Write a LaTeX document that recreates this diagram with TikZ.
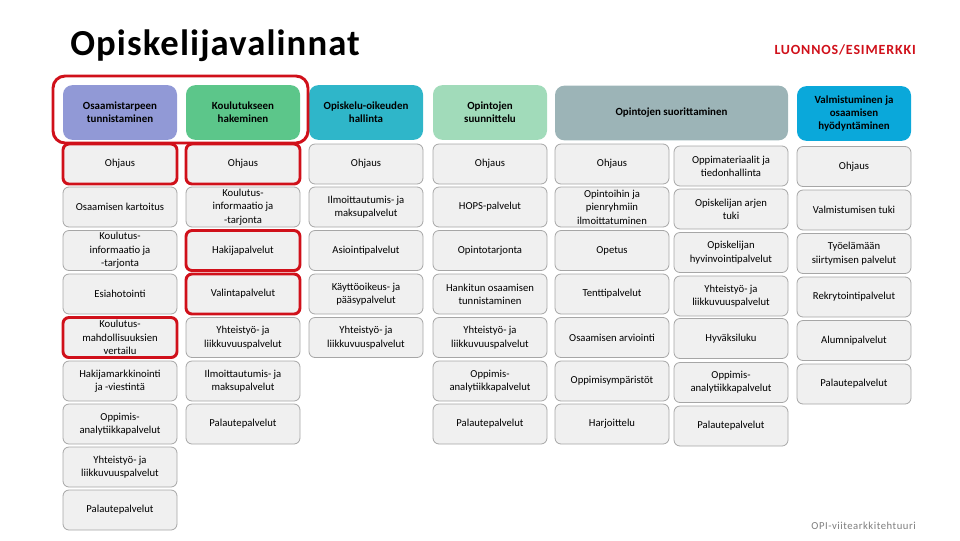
\documentclass[tikz,border=0pt]{standalone}
\usepackage{fontspec}
\setmainfont{Carlito}
\usetikzlibrary{positioning}

\definecolor{hdrpurple}{RGB}{145,153,214}
\definecolor{hdrgreen}{RGB}{92,198,138}
\definecolor{hdrteal}{RGB}{47,182,201}
\definecolor{hdrmint}{RGB}{161,219,186}
\definecolor{hdrgrey}{RGB}{156,180,183}
\definecolor{hdrblue}{RGB}{10,168,218}
\definecolor{svcfill}{RGB}{240,240,240}
\definecolor{svcline}{RGB}{166,166,166}
\definecolor{hlred}{RGB}{208,16,26}
\definecolor{footgrey}{RGB}{125,125,125}

\tikzset{
  svc/.style={draw=svcline, fill=svcfill, rounded corners=4.5pt, line width=0.6pt,
    minimum width=85.5pt, minimum height=30pt, inner sep=1pt, align=center,
    font=\fontsize{8}{10}\selectfont},
  hdr/.style={rounded corners=7pt, minimum width=85.5pt, minimum height=41pt,
    inner sep=1pt, align=center, font=\fontsize{8.2}{9.5}\selectfont\bfseries},
  hl/.style={svc, draw=hlred, line width=2.2pt}
}

\begin{document}
\begin{tikzpicture}[x=0.75pt,y=0.75pt,yscale=-1,xscale=1]
	\useasboundingbox (0,0) rectangle (960,540);
	
	% Title
	\node [anchor=base west, inner sep=0pt, font=\fontsize{27.5}{30}\selectfont\bfseries\addfontfeature{LetterSpace=3}] (title) at (70,55) {Opiskelijavalinnat};
	\node [anchor=base east, inner sep=0pt, text=hlred, font=\fontsize{10.5}{12}\selectfont\bfseries\addfontfeature{LetterSpace=6}] (draft) at (916,54) {LUONNOS/ESIMERKKI};
	
	% Headers
	\node [hdr, fill=hdrpurple] (h1) at (120,112.5) {Osaamistarpeen\\tunnistaminen};
	\node [hdr, fill=hdrgreen] (h2) at (243,112.5) {Koulutukseen\\hakeminen};
	\node [hdr, fill=hdrteal] (h3) at (366,112.5) {Opiskelu-oikeuden\\hallinta};
	\node [hdr, fill=hdrmint] (h4) at (490,112.5) {Opintojen\\suunnittelu};
	\node [hdr, fill=hdrgrey, minimum width=174.75pt] (h5) at (671.5,113) {Opintojen suorittaminen};
	\node [hdr, fill=hdrblue] (h7) at (854,113.5) {Valmistuminen ja\\osaamisen\\hyödyntäminen};
	
	% Column 1
	\node [hl] (a1) at (120,164) {Ohjaus};
	\node [svc] (a2) at (120,207) {Osaamisen kartoitus};
	\node [svc] (a3) at (120,250.5) {Koulutus-\\informaatio ja\\-tarjonta};
	\node [svc] (a4) at (120,294) {Esiahotointi};
	\node [hl] (a5) at (120,337.5) {Koulutus-\\mahdollisuuksien\\vertailu};
	\node [svc] (a6) at (120,381) {Hakijamarkkinointi\\ja -viestintä};
	\node [svc] (a7) at (120,424) {Oppimis-\\analytiikkapalvelut};
	\node [svc] (a8) at (120,467) {Yhteistyö- ja\\liikkuvuuspalvelut};
	\node [svc] (a9) at (120,510) {Palautepalvelut};
	
	% Column 2
	\node [hl] (b1) at (243,164) {Ohjaus};
	\node [svc] (b2) at (243,207) {Koulutus-\\informaatio ja\\-tarjonta};
	\node [hl] (b3) at (243,250.5) {Hakijapalvelut};
	\node [hl] (b4) at (243,294) {Valintapalvelut};
	\node [svc] (b5) at (243,337.5) {Yhteistyö- ja\\liikkuvuuspalvelut};
	\node [svc] (b6) at (243,381) {Ilmoittautumis- ja\\maksupalvelut};
	\node [svc] (b7) at (243,424) {Palautepalvelut};
	
	% Column 3
	\node [svc] (c1) at (366,164) {Ohjaus};
	\node [svc] (c2) at (366,207) {Ilmoittautumis- ja\\maksupalvelut};
	\node [svc] (c3) at (366,250.5) {Asiointipalvelut};
	\node [svc] (c4) at (366,294) {Käyttöoikeus- ja\\pääsypalvelut};
	\node [svc] (c5) at (366,337.5) {Yhteistyö- ja\\liikkuvuuspalvelut};
	
	% Column 4
	\node [svc] (d1) at (490,164) {Ohjaus};
	\node [svc] (d2) at (490,207) {HOPS-palvelut};
	\node [svc] (d3) at (490,250.5) {Opintotarjonta};
	\node [svc] (d4) at (490,294) {Hankitun osaamisen\\tunnistaminen};
	\node [svc] (d5) at (490,337.5) {Yhteistyö- ja\\liikkuvuuspalvelut};
	\node [svc] (d6) at (490,381) {Oppimis-\\analytiikkapalvelut};
	\node [svc] (d7) at (490,424) {Palautepalvelut};
	
	% Column 5
	\node [svc] (e1) at (612,164) {Ohjaus};
	\node [svc] (e2) at (612,207) {Opintoihin ja\\pienryhmiin\\ilmoittatuminen};
	\node [svc] (e3) at (612,250.5) {Opetus};
	\node [svc] (e4) at (612,294) {Tenttipalvelut};
	\node [svc] (e5) at (612,337.5) {Osaamisen arviointi};
	\node [svc] (e6) at (612,381) {Oppimisympäristöt};
	\node [svc] (e7) at (612,424) {Harjoittelu};
	
	% Column 6
	\node [svc] (f1) at (731,166) {Oppimateriaalit ja\\tiedonhallinta};
	\node [svc] (f2) at (731,209) {Opiskelijan arjen\\tuki};
	\node [svc] (f3) at (731,252.5) {Opiskelijan\\hyvinvointipalvelut};
	\node [svc] (f4) at (731,296) {Yhteistyö- ja\\liikkuvuuspalvelut};
	\node [svc] (f5) at (731,338.5) {Hyväksiluku};
	\node [svc] (f6) at (731,382.5) {Oppimis-\\analytiikkapalvelut};
	\node [svc] (f7) at (731,426) {Palautepalvelut};
	
	% Column 7
	\node [svc] (g1) at (854,166.5) {Ohjaus};
	\node [svc] (g2) at (854,210) {Valmistumisen tuki};
	\node [svc] (g3) at (854,253.5) {Työelämään\\siirtymisen palvelut};
	\node [svc] (g4) at (854,297) {Rekrytointipalvelut};
	\node [svc] (g5) at (854,340.5) {Alumnipalvelut};
	\node [svc] (g6) at (854,384) {Palautepalvelut};
	
	% Highlight round the first two headers
	\draw [hlred, line width=2.2pt, rounded corners=9pt] (53,76) rectangle (308,143);
	
	% Footer
	\node [anchor=base east, inner sep=0pt, text=footgrey, font=\fontsize{8}{10}\selectfont\addfontfeature{LetterSpace=5}] (foot) at (916,529) {OPI-viitearkkitehtuuri};
	
\end{tikzpicture}
\end{document}
